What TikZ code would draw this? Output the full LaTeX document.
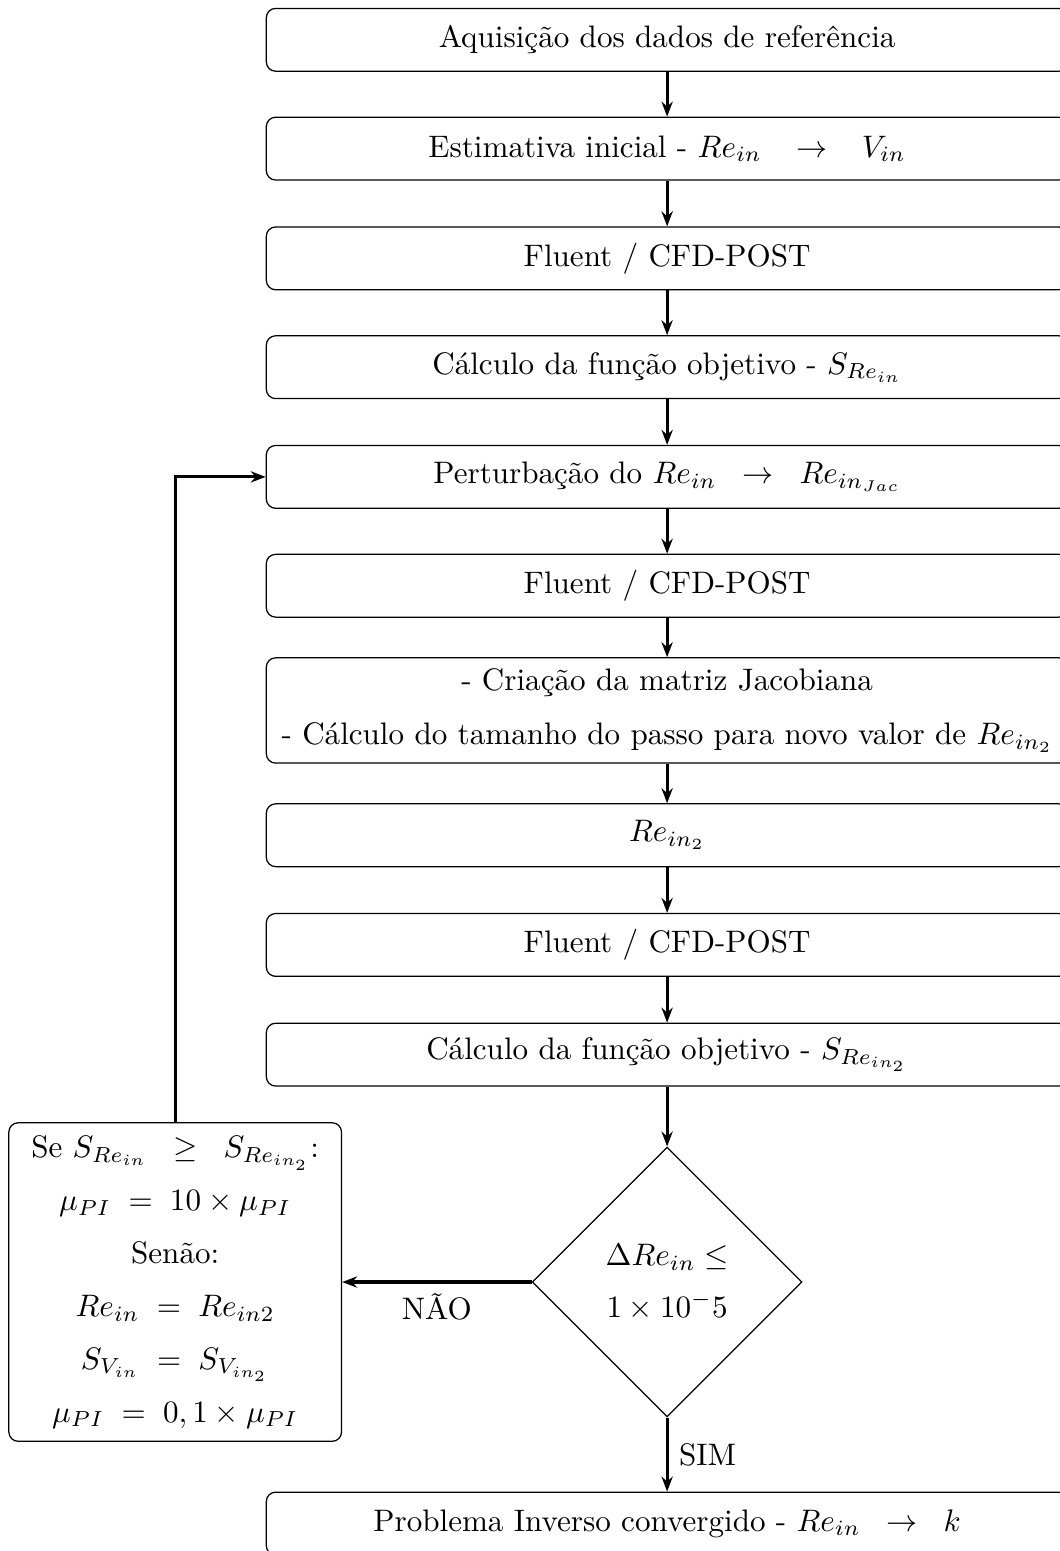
\documentclass[tikz,border=0pt]{standalone}
\usepackage{amssymb}
\usepackage{amsmath}
\usetikzlibrary{shapes.geometric,arrows.meta}

\begin{document}
\begin{tikzpicture}[>={Stealth[length=4.8pt, width=3.6pt]},
  caixa/.style={draw, rounded corners=3pt, minimum width=9.06cm,
    minimum height=0.71cm, align=center},
  decisao/.style={draw, diamond, minimum width=3.05cm,
    minimum height=3.05cm, align=center, inner sep=0pt},
  seta/.style={->, line width=1pt}]
\useasboundingbox (0,0) rectangle (11.97cm, -17.53cm);
%etapas iniciais
\node[caixa] (aquis) at (7.54cm, -0.45cm) {Aquisição dos dados de referência};
\node[caixa] (estim) at (7.54cm, -1.68cm)
     {Estimativa inicial - $Re_{in} \;\;\; \rightarrow \;\;\; V_{in}$};
\node[caixa] (fluentA) at (7.54cm, -2.92cm) {Fluent / CFD-POST};
\node[caixa] (objA) at (7.54cm, -4.15cm)
     {Cálculo da função objetivo - $S_{Re_{in}}$};
%laco iterativo
\node[caixa] (perturb) at (7.54cm, -5.39cm)
     {Perturbação do $Re_{in} \;\; \rightarrow \;\; Re_{in_{Jac}}$};
\node[caixa] (fluentB) at (7.54cm, -6.62cm) {Fluent / CFD-POST};
\node[caixa, minimum height=1.19cm] (jacob) at (7.54cm, -8.03cm)
     {- Criação da matriz Jacobiana\\[5.4pt]
      - Cálculo do tamanho do passo para novo valor de $Re_{in_2}$};
\node[caixa] (novo) at (7.54cm, -9.44cm) {$Re_{in_2}$};
\node[caixa] (fluentC) at (7.54cm, -10.68cm) {Fluent / CFD-POST};
\node[caixa] (objB) at (7.54cm, -11.92cm)
     {Cálculo da função objetivo - $S_{Re_{in_2}}$};
%criterio de parada
\node[decisao] (teste) at (7.54cm, -14.49cm)
     {$\Delta Re_{in} \leq$\\[4.5pt] $1 \times 10^-5$};
%atualizacao dos parametros
\node[caixa, minimum width=3.76cm, minimum height=3.6cm] (atualiza)
     at (1.98cm, -14.49cm)
     {Se $S_{Re_{in}} \;\; \geq \;\; S_{Re_{in_2}}$:\\[5pt]
      $\mu_{PI} \; = \; 10 \times \mu_{PI}$\\[5pt]
      Senão:\\[5pt]
      $Re_{in} \; = \; Re_{in2}$\\[5pt]
      $S_{V_{in}} \; = \; S_{V_{in_2}}$\\[5pt]
      $\mu_{PI} \; = \; 0,1 \times \mu_{PI}$};
%resultado
\node[caixa] (fim) at (7.54cm, -17.22cm)
     {Problema Inverso convergido - $Re_{in} \;\; \rightarrow \;\; k$};
%setas
\foreach \a/\b in {aquis/estim, estim/fluentA, fluentA/objA, objA/perturb,
  perturb/fluentB, fluentB/jacob, jacob/novo, novo/fluentC, fluentC/objB,
  objB/teste}
{
  \draw[seta] (\a) -- (\b);
}
\draw[seta] (teste) -- node[below] {NÃO} (atualiza);
\draw[seta] (teste) -- node[right] {SIM} (fim);
\draw[seta] (atualiza.north) |- (perturb.west);
\end{tikzpicture}
\end{document}
